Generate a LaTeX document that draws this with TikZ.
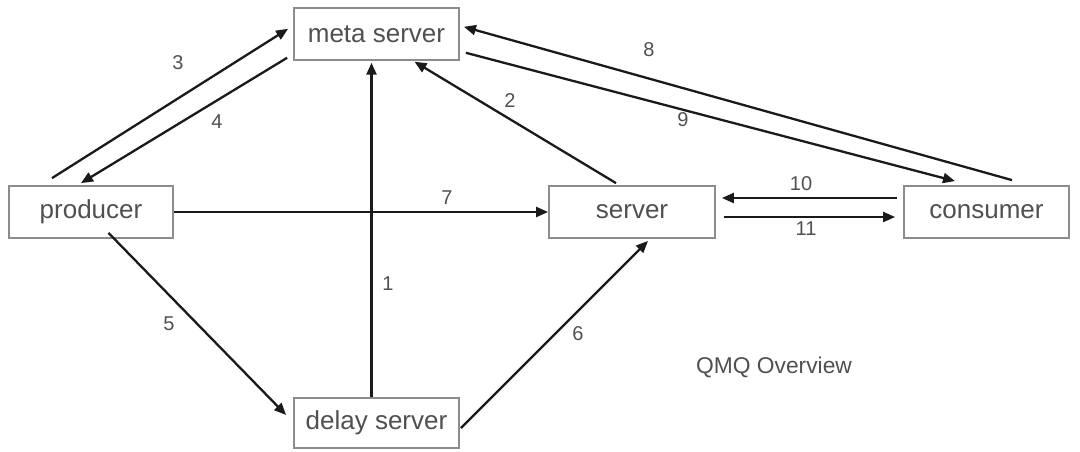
\documentclass[tikz,border=0pt]{standalone}
\usepackage{fontspec}
\setmainfont{Liberation Sans}
\usetikzlibrary{arrows.meta}
\definecolor{boxgray}{HTML}{8C8C8C}
\definecolor{textgray}{HTML}{505050}
\definecolor{linecol}{HTML}{1A1A1A}
\begin{document}
\begin{tikzpicture}[x=1pt,y=-1pt,
  box/.style={draw=boxgray,line width=1.8pt,fill=white,minimum width=165pt,minimum height=52pt,inner sep=0pt,text=textgray,font=\fontsize{26}{31}\selectfont},
  conn/.style={draw=linecol,line width=2.3pt,-{Triangle[length=12pt,width=10pt]}},
  lbl/.style={text=textgray,font=\fontsize{20}{24}\selectfont,inner sep=0pt},
  ttl/.style={text=textgray,font=\fontsize{22.8}{27}\selectfont,inner sep=0pt}]
\useasboundingbox (0,0) rectangle (1080,451);
\node[box] (meta) at (376.5,33.8) {meta server};
\node[box,minimum width=164pt] (producer) at (91,212) {producer};
\node[box,minimum width=166pt] (server) at (632,212) {server};
\node[box] (consumer) at (986.5,212) {consumer};
\node[box,minimum height=50pt] (delay) at (376.5,423) {delay server};

\draw[conn] ([xshift=-39pt,yshift=7pt]producer.north) -- ([xshift=-5pt,yshift=5pt]meta.west);
\draw[conn] ([xshift=-6pt,yshift=-24pt]meta.west) -- ([xshift=-10pt,yshift=2pt]producer.north);
\draw[conn] ([xshift=-5pt]delay.north) -- ([xshift=-5pt,yshift=-2pt]meta.south);
\draw[conn] ([xshift=-16pt,yshift=2pt]server.north) -- ([xshift=38pt,yshift=-1pt]meta.south);
\draw[conn] (producer.east) -- (server.west);
\draw[conn] ([xshift=25.5pt,yshift=5pt]consumer.north) -- ([xshift=4pt,yshift=7pt]meta.east);
\draw[conn] ([xshift=6pt,yshift=-19pt]meta.east) -- ([xshift=-31.5pt,yshift=4pt]consumer.north);
\draw[conn] ([xshift=-6pt,yshift=14pt]consumer.west) -- ([xshift=6pt,yshift=14pt]server.east);
\draw[conn] ([xshift=8pt,yshift=-5pt]server.east) -- ([xshift=-8pt,yshift=-5pt]consumer.west);
\draw[conn] ([xshift=17.5pt,yshift=6pt]producer.south) -- ([xshift=-7pt,yshift=8pt]delay.west);
\draw[conn] ([xshift=1pt,yshift=-5pt]delay.east) -- ([xshift=16pt,yshift=-2pt]server.south);

\node[lbl] (l1) at (388,284) {1};
\node[lbl] (l2) at (510,101) {2};
\node[lbl] (l3) at (178,63) {3};
\node[lbl] (l4) at (217,122) {4};
\node[lbl] (l5) at (169,324) {5};
\node[lbl] (l6) at (578,334) {6};
\node[lbl] (l7) at (447,198) {7};
\node[lbl] (l8) at (649,50) {8};
\node[lbl] (l9) at (683,120) {9};
\node[lbl] (l10) at (801,184) {10};
\node[lbl] (l11) at (806,229) {11};
\node[ttl] (title) at (774,367) {QMQ Overview};
\end{tikzpicture}
\end{document}
